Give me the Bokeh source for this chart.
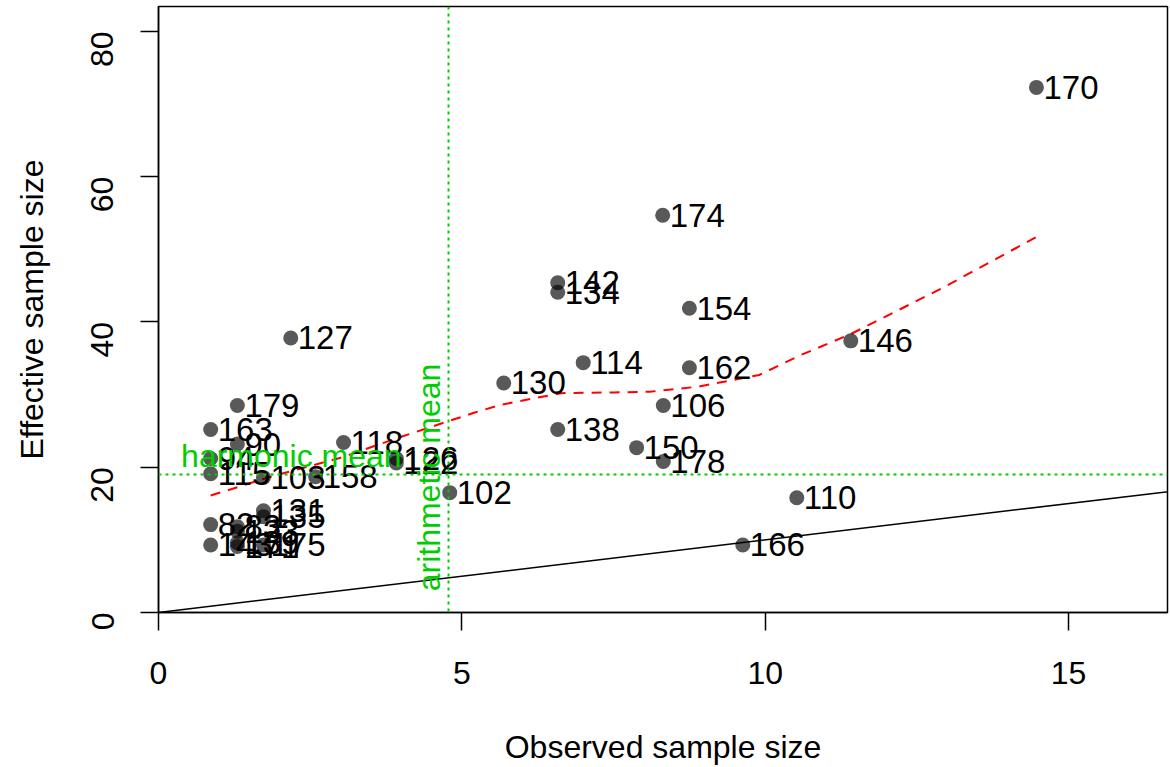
import math
from bokeh.plotting import figure
from bokeh.models import Range1d, Span, Slope, ColumnDataSource, FixedTicker, Label
from bokeh.core.properties import value
from bokeh.embed import file_html
from bokeh.resources import INLINE

# ---- data ----
sample_ids = ["170", "174", "142", "134", "154", "146", "127", "114", "162", "130",
              "106", "179", "138", "163", "150", "118", "90", "178", "126", "122",
              "94", "115", "103", "158", "102", "110", "166", "131", "135", "82",
              "83", "123", "143", "171", "139", "175"]
observed = [14.47, 8.31, 6.58, 6.58, 8.75, 11.41, 2.18, 7.00, 8.75, 5.69,
            8.32, 1.30, 6.58, 0.86, 7.88, 3.05, 1.30, 8.32, 3.92, 3.92,
            0.86, 0.86, 1.73, 2.59, 4.80, 10.52, 9.63, 1.73, 1.73, 0.86,
            1.30, 1.30, 0.86, 1.30, 1.30, 1.73]
effective = [72.3, 54.7, 45.4, 44.1, 41.9, 37.4, 37.8, 34.4, 33.7, 31.6,
             28.5, 28.5, 25.2, 25.2, 22.7, 23.4, 23.2, 20.8, 21.2, 20.6,
             21.2, 19.1, 18.6, 18.7, 16.5, 15.8, 9.3, 14.0, 13.2, 12.1,
             11.8, 11.2, 9.3, 9.1, 9.6, 9.3]

loess_x = [0.86, 1.85, 3.0, 4.0, 5.2, 5.64, 6.63, 7.5, 8.1, 8.9, 9.9, 10.6, 11.4, 12.9, 14.47]
loess_y = [16.1, 18.7, 21.3, 24.2, 27.5, 28.6, 30.2, 30.3, 30.4, 31.1, 32.7, 35.5, 38.3, 44.6, 51.7]

harmonic_mean = 19.0
arithmetic_mean = 4.78
x_ticks = [0, 5, 10, 15]
y_ticks = [0, 20, 40, 60, 80]
x_max = 16.63
y_max = 83.44

FONT = "Liberation Sans"
GREEN = "#00CD00"

p = figure(width=1170, height=767, output_backend="svg", toolbar_location=None,
           x_range=Range1d(0, x_max), y_range=Range1d(0, y_max),
           min_border_left=158, min_border_right=3, min_border_top=6, min_border_bottom=154)
p.background_fill_color = "white"
p.border_fill_color = "white"
p.outline_line_color = "black"
p.outline_line_width = 1.5
p.grid.visible = False

for ax, ticks in ((p.xaxis, x_ticks), (p.yaxis, y_ticks)):
    ax.ticker = FixedTicker(ticks=ticks)
    ax.major_tick_out = 18
    ax.major_tick_in = 0
    ax.minor_tick_out = 0
    ax.minor_tick_in = 0
    ax.major_tick_line_color = "black"
    ax.major_tick_line_width = 1.5
    ax.axis_line_color = "black"
    ax.axis_line_width = 1.5
    ax.major_label_text_font = FONT
    ax.major_label_text_font_size = "32px"
    ax.major_label_text_color = "black"
    ax.axis_label_text_font = FONT
    ax.axis_label_text_font_size = "32px"
    ax.axis_label_text_font_style = "normal"
    ax.axis_label_text_color = "black"

p.xaxis.axis_label = "Observed sample size"
p.yaxis.axis_label = "Effective sample size"
p.xaxis.major_label_standoff = 31
p.xaxis.axis_label_standoff = 42
p.yaxis.major_label_orientation = math.pi / 2
p.yaxis.major_label_standoff = 38
p.yaxis.axis_label_standoff = 28

# identity line
p.add_layout(Slope(gradient=1, y_intercept=0, line_color="black", line_width=1.5))

# means
p.add_layout(Span(location=harmonic_mean, dimension="width", line_color=GREEN,
                  line_width=2, line_dash="3 4"))
p.add_layout(Span(location=arithmetic_mean, dimension="height", line_color=GREEN,
                  line_width=2, line_dash="3 4"))

# loess
p.line(loess_x, loess_y, line_color="red", line_width=2, line_dash="10 8")

src = ColumnDataSource(dict(x=observed, y=effective, lab=sample_ids))
p.scatter("x", "y", source=src, size=15, fill_color="black", fill_alpha=0.65, line_color=None)
p.text("x", "y", text="lab", source=src, x_offset=7, text_align="left",
       text_baseline="middle", text_font=value(FONT), text_font_size="33px",
       text_color="black")

p.add_layout(Label(x=2.19, y=harmonic_mean, y_offset=1, text="harmonic mean",
                   text_align="center", text_baseline="bottom", text_font=FONT,
                   text_font_size="32px", text_color=GREEN))
p.add_layout(Label(x=arithmetic_mean, y=18.6, x_offset=-2, text="arithmetic mean",
                   angle=math.pi / 2, text_align="center", text_baseline="bottom",
                   text_font=FONT, text_font_size="32px", text_color=GREEN))

open("out.html", "w").write(file_html(p, INLINE))
